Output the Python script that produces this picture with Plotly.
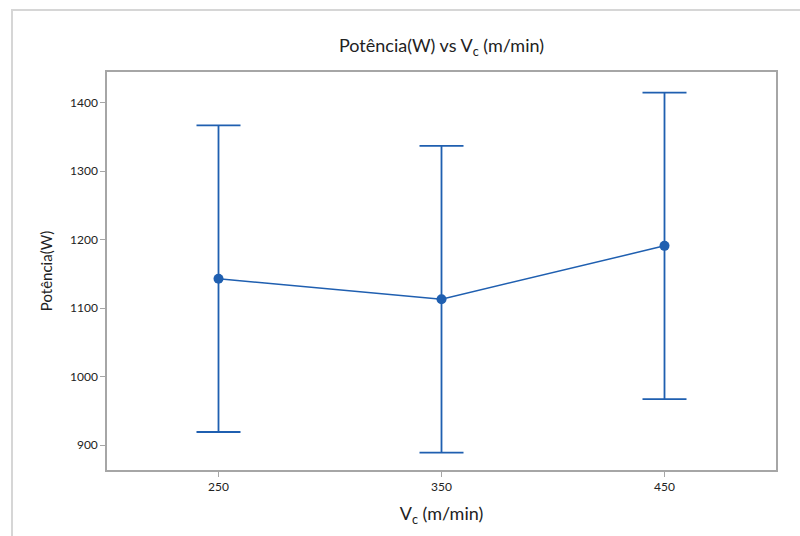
import plotly.graph_objects as go

# Cutting speed levels and mean power with confidence half-widths
vc = [250, 350, 450]
power_mean = [1143, 1113, 1191]
power_err = [224, 224, 224]

x_ticks = [250, 350, 450]
y_ticks = [900, 1000, 1100, 1200, 1300, 1400]

blue = "#1f5fb0"
axis_gray = "#a6a6a6"
font_family = "Lato, 'Open Sans', sans-serif"

fig = go.Figure()
fig.add_trace(go.Scatter(
    x=vc,
    y=power_mean,
    mode="lines+markers",
    line=dict(color=blue, width=1.5),
    marker=dict(color=blue, size=10, symbol="circle"),
    error_y=dict(type="data", array=power_err, visible=True,
                 color=blue, thickness=1.8, width=22),
    showlegend=False,
))

fig.update_layout(
    width=800, height=536,
    margin=dict(l=107, r=24, t=72, b=66),
    paper_bgcolor="white",
    plot_bgcolor="white",
    font=dict(family=font_family, color="#222222"),
    title=dict(
        text="Potência(W) vs V<sub>c</sub> (m/min)",
        x=0.5, xanchor="center", xref="paper",
        y=0.915, yanchor="middle",
        font=dict(size=18, color="#222222"),
    ),
    xaxis=dict(
        range=[200, 500],
        tickvals=x_ticks,
        ticks="outside", ticklen=5, tickcolor=axis_gray,
        showline=True, linecolor=axis_gray, linewidth=1.5, mirror=True,
        showgrid=False, zeroline=False,
        tickfont=dict(size=12, color="#222222"),
        title=dict(text="V<sub>c</sub> (m/min)", font=dict(size=18), standoff=14),
    ),
    yaxis=dict(
        range=[863.5, 1445],
        tickvals=y_ticks,
        ticks="outside", ticklen=5, tickcolor=axis_gray,
        showline=True, linecolor=axis_gray, linewidth=1.5, mirror=True,
        showgrid=False, zeroline=False,
        tickfont=dict(size=12, color="#222222"),
        title=dict(text="Potência(W)", font=dict(size=15), standoff=14),
    ),
    shapes=[dict(
        type="rect", xref="paper", yref="paper",
        x0=-0.142, x1=1.2, y0=-0.3, y1=1.156,
        line=dict(color="#d6d6d6", width=2),
        fillcolor="rgba(0,0,0,0)", layer="below",
    )],
)

fig.write_html("out.html")
